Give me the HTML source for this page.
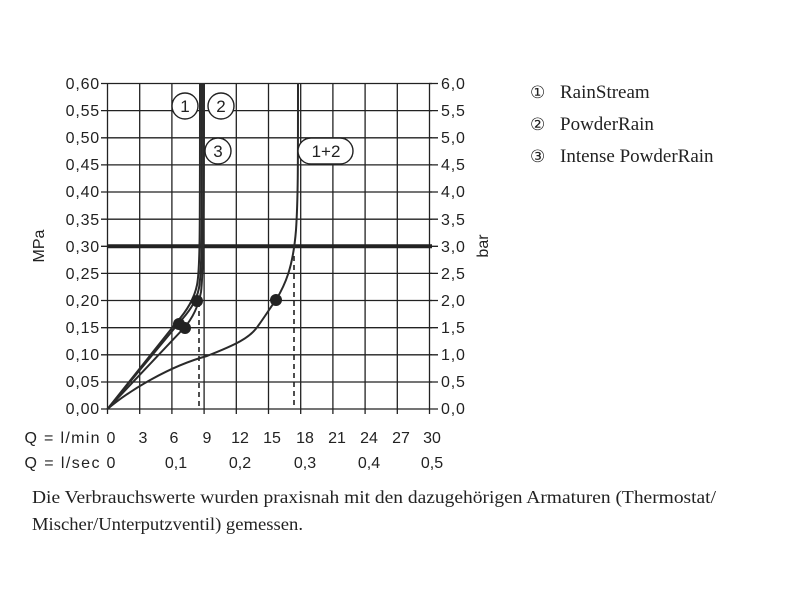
<!DOCTYPE html>
<html><head><meta charset="utf-8"><style>
body{margin:0;background:#fff;width:800px;height:600px;overflow:hidden}
svg{position:absolute;left:0;top:0}
</style></head><body>
<svg width="800" height="600" xmlns="http://www.w3.org/2000/svg" font-family="Liberation Sans, sans-serif" fill="#222">
<g stroke="#222" stroke-width="1.3" fill="none">
<path d="M107.5 83.5H432M107.5 110.6H432M107.5 137.8H432M107.5 164.9H432M107.5 192H432M107.5 219.2H432M107.5 273.4H432M107.5 300.5H432M107.5 327.7H432M107.5 354.8H432M107.5 382H432M101 409H438"/>
<path d="M101 83.5H107.5M101 110.6H107.5M101 137.8H107.5M101 164.9H107.5M101 192H107.5M101 219.2H107.5M101 246.3H107.5M101 273.4H107.5M101 300.5H107.5M101 327.7H107.5M101 354.8H107.5M101 382H107.5"/>
<path d="M429 83.5H438M429 110.6H438M429 137.8H438M429 164.9H438M429 192H438M429 219.2H438M429 246.3H438M429 273.4H438M429 300.5H438M429 327.7H438M429 354.8H438M429 382H438"/>
<path d="M107.5 83.5V414M139.7 83.5V414M171.9 83.5V414M204.1 83.5V414M236.3 83.5V414M268.5 83.5V414M300.7 83.5V414M332.9 83.5V414M365.1 83.5V414M397.3 83.5V414M429.5 83.5V414"/>
</g>
<path d="M107.5 246.3H432" stroke="#222" stroke-width="4"/>
<g stroke="#222" stroke-width="1.6" stroke-dasharray="5,4" fill="none">
<path d="M199 302V409M294 256V409"/>
</g>
<g stroke="#2a2a2a" stroke-width="2" fill="none">
<path d="M107.5 409L176 323C186 312 194 300 197 285C200 270 200 240 200 83"/>
<path d="M107.5 409L178 324C188 313 196 303 199 288C202 270 202 240 202 83"/>
<path d="M107.5 409L184 328C192 319 198 308 201 292C203 275 204 240 204 83"/>
<path d="M107.5 409C130 390 170 366 207 356C235 345 250 338 258 326C266 315 272 305 276 300C285 285 293 268 296 230C298 200 298 170 298 83"/>
</g>
<g fill="#222">
<circle cx="197" cy="301" r="6"/><circle cx="179" cy="324" r="6"/><circle cx="185" cy="328" r="6"/><circle cx="276" cy="300" r="6"/>
</g>
<g fill="#fff" stroke="#222" stroke-width="1.4">
<circle cx="185" cy="106" r="13"/><circle cx="221" cy="106" r="13"/><circle cx="218" cy="151" r="13"/>
<rect x="298" y="138" width="55" height="26" rx="13"/>
</g>
<g font-size="17" text-anchor="middle">
<text x="185" y="112">1</text><text x="221" y="112">2</text><text x="218" y="157">3</text><text x="326" y="157">1+2</text>
</g>
<g font-size="16" text-anchor="end" letter-spacing="0.8">
<text x="100" y="89">0,60</text><text x="100" y="116">0,55</text><text x="100" y="143">0,50</text><text x="100" y="170">0,45</text><text x="100" y="197">0,40</text><text x="100" y="225">0,35</text><text x="100" y="252">0,30</text><text x="100" y="279">0,25</text><text x="100" y="306">0,20</text><text x="100" y="333">0,15</text><text x="100" y="360">0,10</text><text x="100" y="387">0,05</text><text x="100" y="414">0,00</text>
</g>
<g font-size="16" letter-spacing="0.8">
<text x="441" y="89">6,0</text><text x="441" y="116">5,5</text><text x="441" y="143">5,0</text><text x="441" y="170">4,5</text><text x="441" y="197">4,0</text><text x="441" y="225">3,5</text><text x="441" y="252">3,0</text><text x="441" y="279">2,5</text><text x="441" y="306">2,0</text><text x="441" y="333">1,5</text><text x="441" y="360">1,0</text><text x="441" y="387">0,5</text><text x="441" y="414">0,0</text>
</g>
<text font-size="16" transform="translate(44,246) rotate(-90)" text-anchor="middle">MPa</text>
<text font-size="16" transform="translate(488,246) rotate(-90)" text-anchor="middle">bar</text>
<g font-size="16" text-anchor="middle">
<text x="62" y="443" textLength="75">Q = l/min</text>
<text x="111" y="443">0</text><text x="143" y="443">3</text><text x="174" y="443">6</text><text x="207" y="443">9</text><text x="240" y="443">12</text><text x="272" y="443">15</text><text x="305" y="443">18</text><text x="337" y="443">21</text><text x="369" y="443">24</text><text x="401" y="443">27</text><text x="432" y="443">30</text>
<text x="62" y="468" textLength="75">Q = l/sec</text>
<text x="111" y="468">0</text><text x="176" y="468">0,1</text><text x="240" y="468">0,2</text><text x="305" y="468">0,3</text><text x="369" y="468">0,4</text><text x="432" y="468">0,5</text>
</g>
<g font-size="17">
<text x="530" y="98">①</text><text x="530" y="130">②</text><text x="530" y="162">③</text>
</g>
<g font-family="Liberation Serif, serif" font-size="19">
<text x="560" y="98">RainStream</text>
<text x="560" y="130">PowderRain</text>
<text x="560" y="162">Intense PowderRain</text>
</g>
<g font-family="Liberation Serif, serif" font-size="18">
<text x="32" y="503" textLength="684" lengthAdjust="spacingAndGlyphs">Die Verbrauchswerte wurden praxisnah mit den dazugehörigen Armaturen (Thermostat/</text>
<text x="32" y="530" textLength="271" lengthAdjust="spacingAndGlyphs">Mischer/Unterputzventil) gemessen.</text>
</g>
</svg>
</body></html>
